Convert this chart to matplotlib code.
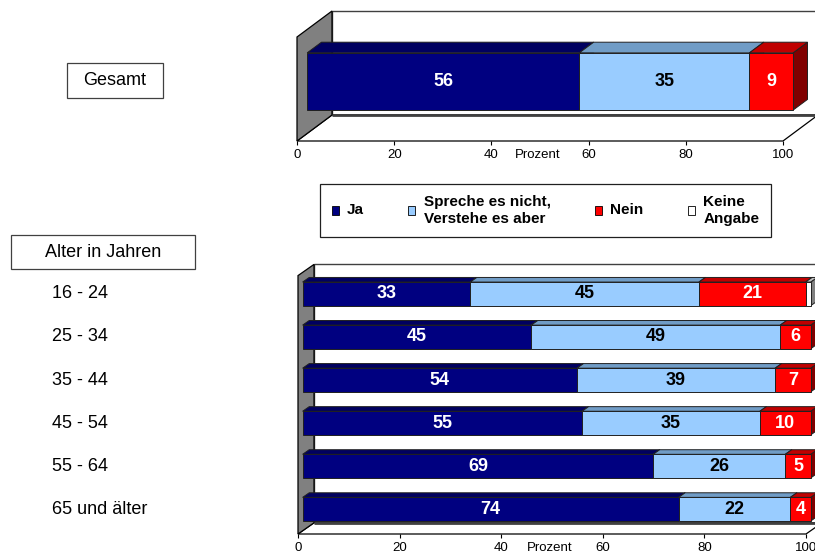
import matplotlib.pyplot as plt
from matplotlib.patches import Polygon, Rectangle, Patch
from matplotlib.transforms import blended_transform_factory

plt.rcParams['font.family'] = ['Liberation Sans', 'DejaVu Sans']

# answer categories and values (percent)
answers = ['Ja', 'Spreche es nicht,\nVerstehe es aber', 'Nein', 'Keine\nAngabe']
total = [56, 35, 9, 0]

age_groups = ['16 - 24', '25 - 34', '35 - 44', '45 - 54', '55 - 64', '65 und älter']
ja = [33, 45, 54, 55, 69, 74]
spreche = [45, 49, 39, 35, 26, 22]
nein = [21, 6, 7, 10, 5, 4]
keine = [1, 0, 0, 0, 0, 0]

ticks = [0, 20, 40, 60, 80, 100]

front_c = ['#000080', '#99ccff', '#ff0000', '#ffffff']
top_c = ['#000060', '#709cc6', '#c00000', '#c0c0c0']
side_c = ['#000040', '#4d6a88', '#800000', '#808080']
text_c = ['white', 'black', 'white', 'black']

W, H = 815, 556
fig = plt.figure(figsize=(W / 100, H / 100), dpi=100)


def px_axes(left, top, right, bottom):
    return fig.add_axes([left / W, 1 - bottom / H, (right - left) / W, (bottom - top) / H])


def draw_3d_bars(ax, rows, dx, dy, z0=0.29, z1=0.70, bar_h=0.55):
    n = len(rows)
    ymin, ymax = -0.5, n - 0.5

    def proj(x, y, z):
        return (x + z * dx, y + z * dy)

    ax.set_xlim(0, 100)
    ax.set_ylim(ymin, ymax)

    # walls and floor
    back = [proj(0, ymin, 1), proj(100, ymin, 1), proj(100, ymax, 1), proj(0, ymax, 1)]
    floor = [proj(0, ymin, 0), proj(100, ymin, 0), proj(100, ymin, 1), proj(0, ymin, 1)]
    left = [proj(0, ymin, 0), proj(0, ymax, 0), proj(0, ymax, 1), proj(0, ymin, 1)]
    ax.add_patch(Polygon(back, closed=True, facecolor='white', edgecolor='#404040',
                         lw=1.0, clip_on=False))
    ax.add_patch(Polygon(floor, closed=True, facecolor='white', edgecolor='black',
                         lw=0.9, clip_on=False))
    ax.plot([proj(0, ymin, 1)[0], proj(100, ymin, 1)[0]],
            [proj(0, ymin, 1)[1], proj(100, ymin, 1)[1]],
            color='#404040', lw=2, clip_on=False, solid_capstyle='butt')
    ax.add_patch(Polygon(left, closed=True, facecolor='#808080', edgecolor='black',
                         lw=0.9, clip_on=False))

    for i, vals in enumerate(rows):
        y = n - 1 - i
        yb, yt = y - bar_h / 2, y + bar_h / 2
        x0 = 0
        for k, v in enumerate(vals):
            if v <= 0:
                continue
            x1 = x0 + v
            face = [proj(x0, yb, z0), proj(x1, yb, z0), proj(x1, yt, z0), proj(x0, yt, z0)]
            topf = [proj(x0, yt, z0), proj(x1, yt, z0), proj(x1, yt, z1), proj(x0, yt, z1)]
            side = [proj(x1, yb, z0), proj(x1, yt, z0), proj(x1, yt, z1), proj(x1, yb, z1)]
            for pts, col in ((side, side_c[k]), (topf, top_c[k]), (face, front_c[k])):
                ax.add_patch(Polygon(pts, closed=True, facecolor=col, edgecolor='#202020',
                                     lw=0.7, clip_on=False))
            if k < 3:
                cx, cy = proj((x0 + x1) / 2, y, z0)
                ax.text(cx, cy, str(v), ha='center', va='center', fontsize=13,
                        fontweight='bold', color=text_c[k], clip_on=False)
            x0 = x1

    for s in ax.spines.values():
        s.set_visible(False)
    ax.set_yticks([])
    ax.set_xticks(ticks)
    ax.set_xticklabels([str(t) for t in ticks])
    ax.tick_params(axis='x', length=3, width=0.8, pad=3, labelsize=9.5)
    ax.annotate('Prozent', xy=(49.5, 0), xycoords=('data', 'axes fraction'),
                xytext=(0, -6), textcoords='offset points', ha='center', va='top',
                fontsize=9.5)
    ax.patch.set_visible(False)
    return proj


def box_label(cx, cy, w, h, text):
    fig.add_artist(Rectangle(((cx - w / 2) / W, 1 - (cy + h / 2) / H), w / W, h / H,
                             transform=fig.transFigure, facecolor='white',
                             edgecolor='#404040', lw=0.9))
    fig.text(cx / W, 1 - cy / H, text, ha='center', va='center', fontsize=13)


# overall
ax_top = px_axes(297, 37, 783, 141)
draw_3d_bars(ax_top, [total], dx=7.2, dy=0.25)
box_label(115, 80.5, 96, 35, 'Gesamt')

# by age group
ax_age = px_axes(298, 275.6, 806, 534)
rows = [list(r) for r in zip(ja, spreche, nein, keine)]
proj = draw_3d_bars(ax_age, rows, dx=3.15, dy=0.26)
box_label(103, 252, 184, 34, 'Alter in Jahren')

trans = blended_transform_factory(fig.transFigure, ax_age.transData)
n = len(age_groups)
for i, lab in enumerate(age_groups):
    ax_age.text(52 / W, proj(0, n - 1 - i, 0.29)[1], lab, transform=trans,
                ha='left', va='center', fontsize=13)

# legend
handles = [Patch(facecolor=c, edgecolor='black', lw=0.6) for c in front_c]
leg = fig.legend(handles, answers, loc='center', bbox_to_anchor=(545.5 / W, 1 - 210.5 / H),
                 ncol=4, frameon=True, fancybox=False, shadow=False, edgecolor='#202020',
                 framealpha=1, prop={'weight': 'bold', 'size': 11},
                 handlelength=0.45, handleheight=0.45, handletextpad=0.55,
                 columnspacing=2.9, borderpad=0.75)
leg.get_frame().set_linewidth(0.9)
leg._legend_handle_box.align = 'center'
for col in leg._legend_handle_box.get_children():
    for item in col.get_children():
        item.align = 'center'

fig.savefig('out.png', dpi=100)
